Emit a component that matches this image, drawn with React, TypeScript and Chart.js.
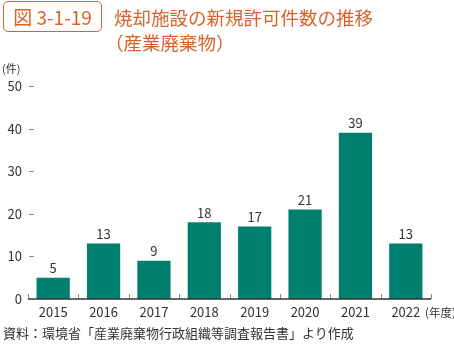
import React, { useEffect, useRef } from "react";
import { Chart, registerables } from "chart.js";

Chart.register(...registerables);

const categories = ["2015", "2016", "2017", "2018", "2019", "2020", "2021", "2022"];
const permits = [5, 13, 9, 18, 17, 21, 39, 13];
const yTicks = [0, 10, 20, 30, 40, 50];

const FONT = '"Noto Sans CJK JP", "Noto Sans", sans-serif';
const ORANGE = "#d9622b";
const TEAL = "#007f6e";
const TEXT = "#333333";

const decorPlugin = {
  id: "decor",
  afterDatasetsDraw(chart: any) {
    const ctx = chart.ctx;
    const area = chart.chartArea;
    const x = chart.scales.x;
    const y = chart.scales.y;
    ctx.save();
    ctx.strokeStyle = "#888888";
    ctx.lineWidth = 1;
    yTicks.forEach((v) => {
      if (v === 0) return;
      const py = Math.round(y.getPixelForValue(v)) + 0.5;
      ctx.beginPath();
      ctx.moveTo(area.left + 1, py);
      ctx.lineTo(area.left + 6, py);
      ctx.stroke();
    });
    const n = categories.length;
    for (let i = 0; i <= n; i++) {
      const px = Math.round(x.getPixelForValue(i - 0.5)) + 0.5;
      ctx.beginPath();
      ctx.moveTo(px, area.bottom);
      ctx.lineTo(px, area.bottom - 5);
      ctx.stroke();
    }
    ctx.strokeStyle = "#333333";
    ctx.lineWidth = 1.5;
    ctx.beginPath();
    ctx.moveTo(area.left, area.bottom);
    ctx.lineTo(area.right, area.bottom);
    ctx.stroke();
    const meta = chart.getDatasetMeta(0);
    ctx.fillStyle = TEXT;
    ctx.font = `13px ${FONT}`;
    ctx.textAlign = "center";
    ctx.textBaseline = "bottom";
    meta.data.forEach((bar: any, i: number) => {
      ctx.fillText(String(permits[i]), bar.x, bar.y - 3);
    });
    ctx.restore();
  },
};

export default function App() {
  const ref = useRef<HTMLCanvasElement>(null);
  useEffect(() => {
    document.body.style.margin = "0";
    const chart = new Chart(ref.current!, {
      type: "bar",
      data: {
        labels: categories,
        datasets: [
          {
            data: permits,
            backgroundColor: TEAL,
            borderWidth: 0,
            categoryPercentage: 1,
            barPercentage: 0.66,
          },
        ],
      },
      options: {
        animation: false,
        responsive: false,
        maintainAspectRatio: false,
        layout: { padding: { top: 86, right: 23, bottom: 15, left: 0 } },
        plugins: { legend: { display: false }, tooltip: { enabled: false } },
        scales: {
          x: {
            grid: { display: false, drawTicks: false },
            border: { display: false },
            ticks: { color: TEXT, font: { family: FONT, size: 13 }, padding: 5, maxRotation: 0, autoSkip: false },
            afterFit: (s: any) => {
              s.height = 30;
            },
          },
          y: {
            min: 0,
            max: 50,
            afterBuildTicks: (s: any) => {
              s.ticks = yTicks.map((v) => ({ value: v }));
            },
            grid: { display: false, drawTicks: false },
            border: { display: false },
            ticks: { color: TEXT, font: { family: FONT, size: 13 }, padding: 6 },
            afterFit: (s: any) => {
              s.width = 28;
            },
          },
        },
      },
      plugins: [decorPlugin],
    });
    return () => chart.destroy();
  }, []);

  return (
    <div style={{ position: "relative", width: 454, height: 344, fontFamily: FONT, color: TEXT, overflow: "hidden" }}>
      <canvas ref={ref} width={454} height={344} style={{ position: "absolute", left: 0, top: 0 }} />
      <div
        style={{
          position: "absolute",
          left: 3,
          top: 1,
          width: 97,
          height: 29,
          border: `1.5px solid ${ORANGE}`,
          borderRadius: 5,
          color: ORANGE,
          fontSize: 19,
          lineHeight: "29px",
          textAlign: "center",
          whiteSpace: "nowrap",
        }}
      >
        図 3-1-19
      </div>
      <div
        style={{
          position: "absolute",
          left: 114,
          top: 5,
          color: ORANGE,
          fontSize: 18.5,
          lineHeight: "25px",
          whiteSpace: "nowrap",
        }}
      >
        焼却施設の新規許可件数の推移
        <br />
        <span style={{ marginLeft: -9 }}>（産業廃棄物）</span>
      </div>
      <div style={{ position: "absolute", left: 2, top: 60, fontSize: 11, whiteSpace: "nowrap" }}>(件)</div>
      <div style={{ position: "absolute", left: 425, top: 304, fontSize: 11.5, whiteSpace: "nowrap" }}>(年度)</div>
      <div style={{ position: "absolute", left: 3, top: 323, fontSize: 13, whiteSpace: "nowrap" }}>
        資料：環境省「産業廃棄物行政組織等調査報告書」より作成
      </div>
    </div>
  );
}
